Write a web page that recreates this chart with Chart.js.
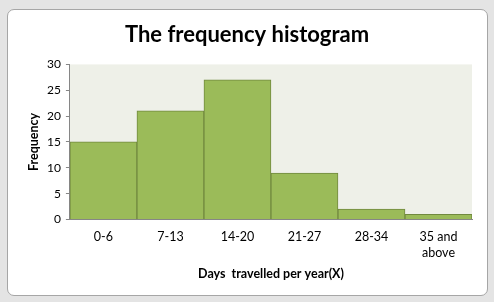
<!DOCTYPE html>
<html>
<head>
<meta charset="utf-8">
<script src="https://cdn.jsdelivr.net/npm/chart.js@4.4.1/dist/chart.umd.min.js"></script>
<style>
  html, body { margin: 0; padding: 0; }
  body { width: 494px; height: 302px; background: #e4e4e4; position: relative; overflow: hidden; }
  #frame {
    position: absolute; left: 7px; top: 9px; width: 479px; height: 285px;
    background: #fff; border: 1px solid #a6a6a6; border-radius: 7px; overflow: hidden;
  }
  #chart { display: block; }
</style>
</head>
<body>
<div id="frame"><canvas id="chart" width="479" height="285"></canvas></div>
<script>
var categories = ["0-6", "7-13", "14-20", "21-27", "28-34", ["35 and", "above"]];
var frequencies = [15, 21, 27, 9, 2, 1];
var yTicks = [0, 5, 10, 15, 20, 25, 30];

var plotBackground = {
  id: "plotBackground",
  beforeDraw: function (chart) {
    var a = chart.chartArea, ctx = chart.ctx;
    ctx.save();
    ctx.fillStyle = "#eef0e8";
    ctx.fillRect(a.left, a.top, a.right - a.left, a.bottom - a.top);
    ctx.restore();
  }
};

new Chart("chart", {
  type: "bar",
  data: {
    labels: categories,
    datasets: [{
      data: frequencies,
      backgroundColor: "#9bbb59",
      borderColor: "#71893f",
      borderWidth: 1,
      categoryPercentage: 1,
      barPercentage: 1
    }]
  },
  options: {
    responsive: false,
    animation: false,
    layout: { padding: { top: 6, right: 15, left: 14, bottom: 10 } },
    plugins: {
      legend: { display: false },
      tooltip: { enabled: false },
      title: {
        display: true,
        text: "The frequency histogram",
        color: "#000",
        font: { family: "Lato", size: 22, weight: "bold" },
        padding: { top: 6, bottom: 16 }
      }
    },
    scales: {
      x: {
        grid: { display: false },
        border: { display: true, color: "#868686" },
        ticks: { color: "#000", font: { family: "Lato", size: 12.5, lineHeight: 1.3 }, maxRotation: 0, padding: 1 },
        title: {
          display: true,
          text: "Days  travelled per year(X)",
          color: "#000",
          font: { family: "Lato", size: 12.5, weight: "bold" },
          padding: { top: 4 }
        }
      },
      y: {
        min: 0,
        max: 30,
        afterBuildTicks: function (axis) {
          axis.ticks = yTicks.map(function (v) { return { value: v }; });
        },
        grid: { drawOnChartArea: false, drawTicks: true, tickLength: 4, color: "#868686" },
        border: { display: true, color: "#868686" },
        ticks: { color: "#000", font: { family: "Lato", size: 12 }, padding: 5 },
        title: {
          display: true,
          text: "Frequency",
          color: "#000",
          font: { family: "Lato", size: 12.5, weight: "bold" },
          padding: { bottom: 1 }
        }
      }
    }
  },
  plugins: [plotBackground]
});
</script>
</body>
</html>
